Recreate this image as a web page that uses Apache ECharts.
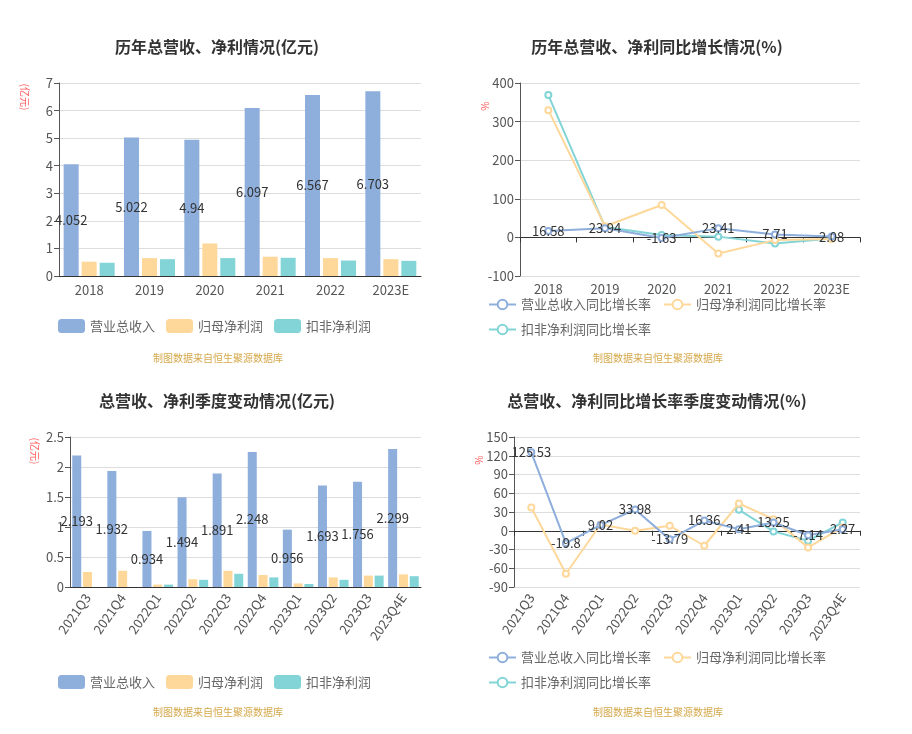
<!DOCTYPE html>
<html>
<head>
<meta charset="utf-8">
<script src="https://cdn.jsdelivr.net/npm/echarts@6/dist/echarts.min.js"></script>
<style>
  html, body { margin: 0; padding: 0; background: #fff; }
  #main { width: 912px; height: 734px; }
</style>
</head>
<body>
<div id="main"></div>
<script>
// 年度数据
const yearCats = ['2018', '2019', '2020', '2021', '2022', '2023E']
const yearRevenue = [4.052, 5.022, 4.94, 6.097, 6.567, 6.703]
const yearNetProfit = [0.52, 0.65, 1.18, 0.70, 0.65, 0.61]
const yearDeductProfit = [0.48, 0.61, 0.65, 0.66, 0.56, 0.55]
const yearRevenueYoy = [16.58, 23.94, -1.63, 23.41, 7.71, 2.08]
const yearNetYoy = [329.6, 29, 84, -41.5, -7, -4]
const yearDeductYoy = [368.7, 27, 6, 2, -15.6, -3]

// 季度数据
const qCats = ['2021Q3', '2021Q4', '2022Q1', '2022Q2', '2022Q3', '2022Q4', '2023Q1', '2023Q2', '2023Q3', '2023Q4E']
const qRevenue = [2.193, 1.932, 0.934, 1.494, 1.891, 2.248, 0.956, 1.693, 1.756, 2.299]
const qNetProfit = [0.25, 0.27, 0.04, 0.13, 0.27, 0.20, 0.06, 0.16, 0.19, 0.21]
const qDeductProfit = [null, null, 0.04, 0.12, 0.22, 0.16, 0.05, 0.12, 0.19, 0.18]
const qRevenueYoy = [125.53, -19.8, 9.02, 33.98, -13.79, 16.36, 2.41, 13.25, -7.14, 2.27]
const qNetYoy = [37.3, -68.8, 10, 0, 8, -24, 43.6, 18.6, -26.6, 5.3]
const qDeductYoy = [null, null, null, null, null, null, 33.5, -1, -16, 13.3]

const barNames = ['营业总收入', '归母净利润', '扣非净利润']
const lineNames = ['营业总收入同比增长率', '归母净利润同比增长率', '扣非净利润同比增长率']
const colors = ['#8eaedc', '#fed89a', '#82d4d6']
const font = 'Noto Sans CJK SC'

const chart = echarts.init(document.getElementById('main'))

function valueAxis(gridIndex, min, max, interval) {
  return {
    type: 'value', gridIndex, min, max, interval,
    axisLine: { show: true, lineStyle: { color: '#555' } },
    axisTick: { show: true, length: 5, lineStyle: { color: '#555' } },
    axisLabel: { color: '#555', fontSize: 13, margin: 6 },
    splitLine: { lineStyle: { color: '#ddd' } }
  }
}

function barSeries(xi, yi, lists, width) {
  return lists.map((d, i) => ({
    name: barNames[i], type: 'bar', xAxisIndex: xi, yAxisIndex: yi,
    data: d, barWidth: width, barGap: '20%',
    itemStyle: { color: colors[i] },
    label: i === 0 ? { show: true, position: 'inside', color: '#333', fontSize: 13 } : { show: false }
  }))
}

function lineSeries(xi, yi, lists) {
  return lists.map((d, i) => ({
    name: lineNames[i], type: 'line', xAxisIndex: xi, yAxisIndex: yi,
    data: d, symbol: 'emptyCircle', symbolSize: 6,
    lineStyle: { width: 2, color: colors[i] },
    itemStyle: { color: colors[i] },
    label: i === 0 ? { show: true, position: 'inside', color: '#333', fontSize: 13 } : { show: false },
    z: 3 - i
  }))
}

function text(x, y, str, style) {
  return { type: 'text', x, y, style: Object.assign({ text: str, align: 'center', verticalAlign: 'middle' }, style) }
}
function yName(x, y, str) {
  return { type: 'text', x, y, rotation: -Math.PI / 2,
    style: { text: str, align: 'center', verticalAlign: 'middle', fill: '#ff5a5a', font: '10px ' + font } }
}
const titleFont = 'bold 16px ' + font
const footFont = '10px ' + font

const catLabel = { color: '#555', fontSize: 13 }
const legendText = { color: '#666', fontSize: 13 }

let option = {
  textStyle: { fontFamily: font },
  animation: false,
  grid: [
    { left: 59, top: 83, width: 362, height: 193 },
    { left: 520, top: 83, width: 340, height: 193 },
    { left: 70, top: 437, width: 351, height: 150 },
    { left: 514, top: 437, width: 346, height: 150 }
  ],
  xAxis: [
    // 0: 年度柱状
    { type: 'category', gridIndex: 0, data: yearCats,
      axisLine: { lineStyle: { color: '#333' } }, axisTick: { length: 5 }, axisLabel: Object.assign({ margin: 8 }, catLabel) },
    // 1,2: 年度折线（底部标签 + 零轴）
    { type: 'category', gridIndex: 1, data: yearCats, position: 'bottom',
      axisLine: { show: false, onZero: false }, axisTick: { show: false }, axisLabel: Object.assign({ margin: 7 }, catLabel) },
    { type: 'category', gridIndex: 1, data: yearCats, position: 'bottom',
      axisLine: { show: true, onZero: true, lineStyle: { color: '#333' } }, axisTick: { show: true, length: 5 }, axisLabel: { show: false } },
    // 3: 季度柱状
    { type: 'category', gridIndex: 2, data: qCats,
      axisLine: { lineStyle: { color: '#333' } }, axisTick: { length: 5 }, axisLabel: Object.assign({ margin: 8, rotate: 55 }, catLabel) },
    // 4,5: 季度折线
    { type: 'category', gridIndex: 3, data: qCats, position: 'bottom',
      axisLine: { show: false, onZero: false }, axisTick: { show: false }, axisLabel: Object.assign({ margin: 8, rotate: 55 }, catLabel) },
    { type: 'category', gridIndex: 3, data: qCats, position: 'bottom',
      axisLine: { show: true, onZero: true, lineStyle: { color: '#333' } }, axisTick: { show: true, length: 5 }, axisLabel: { show: false } }
  ],
  yAxis: [
    valueAxis(0, 0, 7, 1),
    valueAxis(1, -100, 400, 100),
    valueAxis(2, 0, 2.5, 0.5),
    valueAxis(3, -90, 150, 30)
  ],
  legend: [
    { left: 53, top: 314, itemWidth: 27, itemHeight: 14, itemGap: 11, icon: 'roundRect', data: barNames, textStyle: legendText },
    { left: 483, top: 293, width: 380, itemWidth: 27, itemHeight: 12, itemGap: 12, data: lineNames, textStyle: legendText },
    { left: 53, top: 670, itemWidth: 27, itemHeight: 14, itemGap: 11, icon: 'roundRect', data: barNames, textStyle: legendText },
    { left: 483, top: 646, width: 380, itemWidth: 27, itemHeight: 12, itemGap: 12, data: lineNames, textStyle: legendText }
  ],
  graphic: [
    text(217, 47, '历年总营收、净利情况(亿元)', { fill: '#333', font: titleFont }),
    text(657, 47, '历年总营收、净利同比增长情况(%)', { fill: '#333', font: titleFont }),
    text(217, 401, '总营收、净利季度变动情况(亿元)', { fill: '#333', font: titleFont }),
    text(657, 401, '总营收、净利同比增长率季度变动情况(%)', { fill: '#333', font: titleFont }),
    text(218, 358, '制图数据来自恒生聚源数据库', { fill: '#d4a84a', font: footFont }),
    text(658, 358, '制图数据来自恒生聚源数据库', { fill: '#d4a84a', font: footFont }),
    text(218, 712, '制图数据来自恒生聚源数据库', { fill: '#d4a84a', font: footFont }),
    text(658, 712, '制图数据来自恒生聚源数据库', { fill: '#d4a84a', font: footFont }),
    yName(25, 97, '(亿元)'),
    yName(485, 106, '%'),
    yName(35, 451, '(亿元)'),
    yName(479, 460, '%')
  ],
  series: [].concat(
    barSeries(0, 0, [yearRevenue, yearNetProfit, yearDeductProfit], 15),
    lineSeries(1, 1, [yearRevenueYoy, yearNetYoy, yearDeductYoy]),
    barSeries(3, 2, [qRevenue, qNetProfit, qDeductProfit], 9),
    lineSeries(4, 3, [qRevenueYoy, qNetYoy, qDeductYoy])
  )
}
chart.setOption(option)
</script>
</body>
</html>
